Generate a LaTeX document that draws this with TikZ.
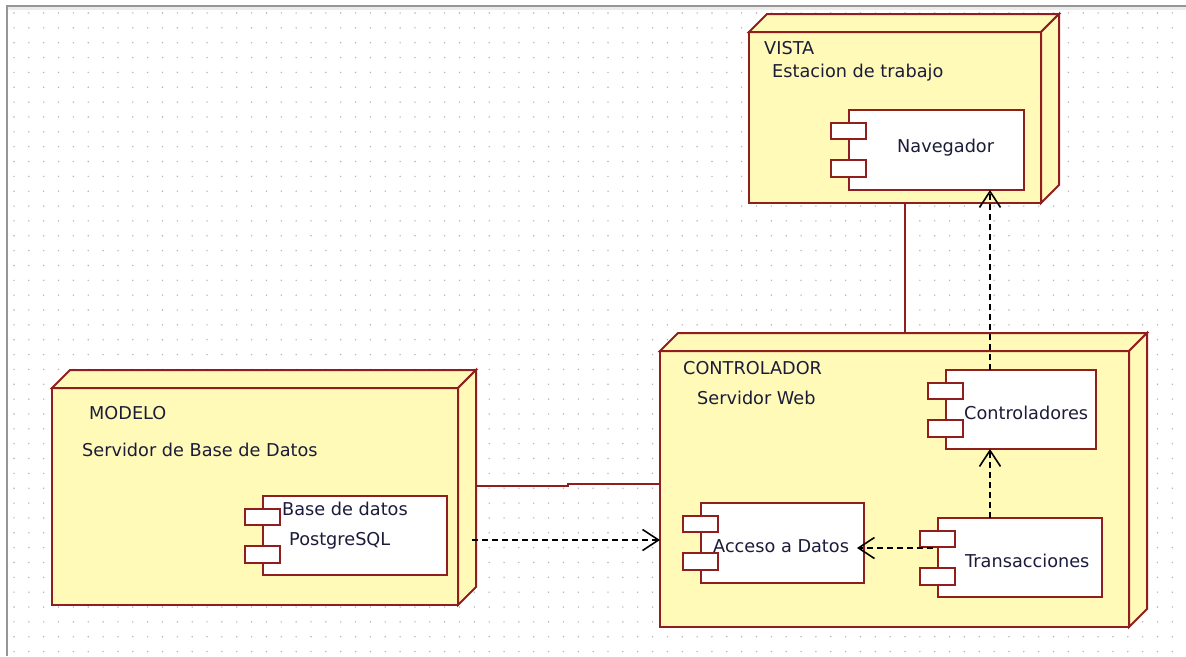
\documentclass[tikz,border=0pt]{standalone}
\usepackage{fontspec}
\setmainfont{DejaVu Sans}
\usetikzlibrary{arrows.meta,calc}

\definecolor{nodefill}{RGB}{255,250,184}
\definecolor{nodeline}{RGB}{145,30,30}
\definecolor{labeltext}{RGB}{28,28,58}
\definecolor{gridgray}{RGB}{180,180,180}
\definecolor{framegray}{RGB}{150,150,150}
\definecolor{frameshade}{RGB}{235,235,235}

\tikzset{
  txt/.style={font=\fontsize{17.7}{21}\selectfont, text=labeltext, inner sep=0pt, anchor=base west},
  device/.style={draw=nodeline, fill=nodefill, line width=2pt, outer sep=0pt,
    inner sep=0pt, anchor=north west},
  deviceface/.style={draw=nodeline, fill=nodefill, line width=2pt, line join=miter},
  component/.style={draw=nodeline, fill=white, line width=2pt, outer sep=0pt,
    inner sep=0pt, anchor=north west, minimum height=80pt},
  comptab/.style={draw=nodeline, fill=white, line width=2pt},
  link/.style={draw=nodeline, line width=1.6pt},
  dependency/.style={draw=black, line width=1.6pt, dash pattern=on 6pt off 4pt,
    -{Straight Barb[length=16pt,width=21pt,line width=1.6pt]}},
}

% 3D faces (top and right side) of a deployment node
\newcommand{\devfaces}[1]{%
  \path[deviceface] (#1.north west) -- ++(18,-18) -- ($(#1.north east)+(18,-18)$)
    -- (#1.north east) -- cycle;
  \path[deviceface] (#1.north east) -- ($(#1.north east)+(18,-18)$)
    -- ($(#1.south east)+(18,-18)$) -- (#1.south east) -- cycle;
}
% the two small tabs of a component symbol
\newcommand{\comptabs}[1]{%
  \path[comptab] ($(#1.north west)+(-18,13)$) rectangle ($(#1.north west)+(17,29)$);
  \path[comptab] ($(#1.north west)+(-18,50)$) rectangle ($(#1.north west)+(17,67)$);
}

\begin{document}
\begin{tikzpicture}[x=1pt,y=-1pt]
  \useasboundingbox (0,0) rectangle (1186,656);
  \fill[white] (0,0) rectangle (1186,656);

  % canvas frame and dotted grid
  \fill[frameshade] (8,7) rectangle (1186,10);
  \draw[framegray, line width=2pt] (7,656) -- (7,6) -- (1186,6);
  \foreach \i in {0,...,78} {
    \foreach \j in {0,...,43} {
      \fill[gridgray] ({14+14.85*\i},{13+14.85*\j}) circle (0.8pt);
    }
  }

  % deployment nodes
  \node[device, minimum width=292pt, minimum height=171pt] (vista) at (749,32) {};
  \devfaces{vista}
  \node[device, minimum width=406pt, minimum height=217pt] (modelo) at (52,388) {};
  \devfaces{modelo}
  \node[device, minimum width=469pt, minimum height=276pt] (ctrl) at (660,351) {};
  \devfaces{ctrl}

  % node labels
  \node[txt] (vistaname) at (764,54) {VISTA};
  \node[txt] (vistatype) at (772,77) {Estacion de trabajo};
  \node[txt] (modeloname) at (89,419) {MODELO};
  \node[txt] (modelotype) at (82,456) {Servidor de Base de Datos};
  \node[txt] (ctrlname) at (683,374) {CONTROLADOR};
  \node[txt] (ctrltype) at (697,404) {Servidor Web};

  % components
  \node[component, minimum width=175pt] (nav) at (849,110) {};
  \comptabs{nav}
  \node[txt] (navtext) at (897,152) {Navegador};

  \node[component, minimum width=184pt, minimum height=79pt] (bd) at (263,496) {};
  \comptabs{bd}
  \node[txt] (bdtext) at (282,515) {Base de datos};
  \node[txt] (bdtext2) at (289,545) {PostgreSQL};

  \node[component, minimum width=150pt, minimum height=79pt] (ctl) at (946,370) {};
  \comptabs{ctl}
  \node[txt] (ctltext) at (964,419) {Controladores};

  \node[component, minimum width=163pt] (acc) at (701,503) {};
  \comptabs{acc}
  \node[txt] (acctext) at (713,552) {Acceso a Datos};

  \node[component, minimum width=164pt, minimum height=79pt] (trans) at (938,518) {};
  \comptabs{trans}
  \node[txt] (transtext) at (965,567) {Transacciones};

  % communication paths between nodes
  \coordinate (vx) at (905,0);
  \draw[link] (vista.south -| vx) -- ($(ctrl.north -| vx)+(0,-18)$);
  \coordinate (my) at (0,486);
  \coordinate (my2) at (0,484);
  \draw[link] ($(modelo.east |- my)+(18,0)$) -- (568,486) -- (568,484) -- (ctrl.west |- my2);

  % dependencies
  \coordinate (dx) at (990,0);
  \draw[dependency] (ctl.north -| dx) -- (nav.south -| dx);
  \draw[dependency] (trans.north -| dx) -- (ctl.south -| dx);
  \coordinate (ty) at (0,548);
  \draw[dependency] ($(trans.west |- ty)+(-5,0)$) -- ($(acc.east |- ty)+(-7,0)$);
  \coordinate (dy) at (0,540);
  \draw[dependency] ($(modelo.east |- dy)+(14,0)$) -- (ctrl.west |- dy);
\end{tikzpicture}
\end{document}
